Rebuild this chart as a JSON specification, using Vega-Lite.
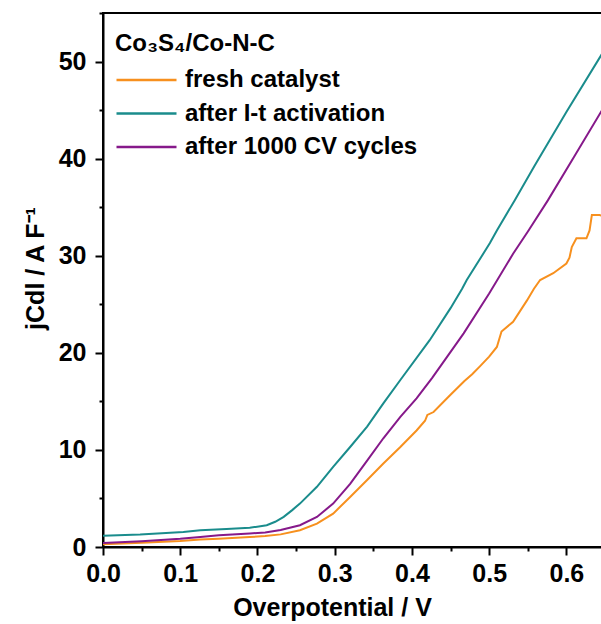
{
  "$schema": "https://vega.github.io/schema/vega-lite/v6.json",
  "autosize": "none",
  "padding": {"left": 103, "top": 13, "right": 0, "bottom": 77},
  "width": 502,
  "height": 534,
  "background": "white",
  "config": {"view": {"stroke": "black", "strokeWidth": 2}, "font": "Liberation Sans"},
  "data": {"values": [
    {"s": "fresh catalyst", "x": 0, "y": 0.28},
    {"s": "fresh catalyst", "x": 0.05, "y": 0.45},
    {"s": "fresh catalyst", "x": 0.1, "y": 0.62},
    {"s": "fresh catalyst", "x": 0.126, "y": 0.76},
    {"s": "fresh catalyst", "x": 0.15, "y": 0.85},
    {"s": "fresh catalyst", "x": 0.19, "y": 1.02},
    {"s": "fresh catalyst", "x": 0.21, "y": 1.13},
    {"s": "fresh catalyst", "x": 0.23, "y": 1.3},
    {"s": "fresh catalyst", "x": 0.255, "y": 1.72},
    {"s": "fresh catalyst", "x": 0.277, "y": 2.4},
    {"s": "fresh catalyst", "x": 0.298, "y": 3.44},
    {"s": "fresh catalyst", "x": 0.32, "y": 5.15},
    {"s": "fresh catalyst", "x": 0.342, "y": 6.9},
    {"s": "fresh catalyst", "x": 0.363, "y": 8.6},
    {"s": "fresh catalyst", "x": 0.385, "y": 10.3},
    {"s": "fresh catalyst", "x": 0.406, "y": 12.0},
    {"s": "fresh catalyst", "x": 0.417, "y": 13.0},
    {"s": "fresh catalyst", "x": 0.42, "y": 13.6},
    {"s": "fresh catalyst", "x": 0.428, "y": 13.9},
    {"s": "fresh catalyst", "x": 0.449, "y": 15.6},
    {"s": "fresh catalyst", "x": 0.468, "y": 17.1},
    {"s": "fresh catalyst", "x": 0.478, "y": 17.8},
    {"s": "fresh catalyst", "x": 0.488, "y": 18.6},
    {"s": "fresh catalyst", "x": 0.5, "y": 19.6},
    {"s": "fresh catalyst", "x": 0.51, "y": 20.6},
    {"s": "fresh catalyst", "x": 0.513, "y": 21.4},
    {"s": "fresh catalyst", "x": 0.516, "y": 22.2},
    {"s": "fresh catalyst", "x": 0.531, "y": 23.2},
    {"s": "fresh catalyst", "x": 0.549, "y": 25.4},
    {"s": "fresh catalyst", "x": 0.558, "y": 26.6},
    {"s": "fresh catalyst", "x": 0.566, "y": 27.5},
    {"s": "fresh catalyst", "x": 0.583, "y": 28.2},
    {"s": "fresh catalyst", "x": 0.6, "y": 29.2},
    {"s": "fresh catalyst", "x": 0.604, "y": 29.8},
    {"s": "fresh catalyst", "x": 0.607, "y": 30.9},
    {"s": "fresh catalyst", "x": 0.613, "y": 31.8},
    {"s": "fresh catalyst", "x": 0.626, "y": 31.8},
    {"s": "fresh catalyst", "x": 0.63, "y": 32.6},
    {"s": "fresh catalyst", "x": 0.633, "y": 34.2},
    {"s": "fresh catalyst", "x": 0.643, "y": 34.2},
    {"s": "fresh catalyst", "x": 0.65, "y": 34.0},
    {"s": "after I-t activation", "x": 0, "y": 1.15},
    {"s": "after I-t activation", "x": 0.048, "y": 1.28},
    {"s": "after I-t activation", "x": 0.104, "y": 1.55},
    {"s": "after I-t activation", "x": 0.126, "y": 1.72},
    {"s": "after I-t activation", "x": 0.16, "y": 1.85},
    {"s": "after I-t activation", "x": 0.19, "y": 1.98},
    {"s": "after I-t activation", "x": 0.212, "y": 2.24},
    {"s": "after I-t activation", "x": 0.223, "y": 2.6},
    {"s": "after I-t activation", "x": 0.234, "y": 3.1},
    {"s": "after I-t activation", "x": 0.245, "y": 3.8},
    {"s": "after I-t activation", "x": 0.255, "y": 4.47},
    {"s": "after I-t activation", "x": 0.277, "y": 6.2},
    {"s": "after I-t activation", "x": 0.298, "y": 8.25},
    {"s": "after I-t activation", "x": 0.32, "y": 10.3},
    {"s": "after I-t activation", "x": 0.342, "y": 12.4},
    {"s": "after I-t activation", "x": 0.363, "y": 14.8},
    {"s": "after I-t activation", "x": 0.385, "y": 17.2},
    {"s": "after I-t activation", "x": 0.423, "y": 21.3},
    {"s": "after I-t activation", "x": 0.45, "y": 24.6},
    {"s": "after I-t activation", "x": 0.465, "y": 26.6},
    {"s": "after I-t activation", "x": 0.471, "y": 27.5},
    {"s": "after I-t activation", "x": 0.501, "y": 31.3},
    {"s": "after I-t activation", "x": 0.51, "y": 32.6},
    {"s": "after I-t activation", "x": 0.533, "y": 35.7},
    {"s": "after I-t activation", "x": 0.559, "y": 39.3},
    {"s": "after I-t activation", "x": 0.6, "y": 44.8},
    {"s": "after I-t activation", "x": 0.65, "y": 51.3},
    {"s": "after 1000 CV cycles", "x": 0, "y": 0.41},
    {"s": "after 1000 CV cycles", "x": 0.05, "y": 0.6},
    {"s": "after 1000 CV cycles", "x": 0.1, "y": 0.85},
    {"s": "after 1000 CV cycles", "x": 0.126, "y": 1.03},
    {"s": "after 1000 CV cycles", "x": 0.15, "y": 1.2},
    {"s": "after 1000 CV cycles", "x": 0.19, "y": 1.4},
    {"s": "after 1000 CV cycles", "x": 0.21, "y": 1.5},
    {"s": "after 1000 CV cycles", "x": 0.23, "y": 1.75},
    {"s": "after 1000 CV cycles", "x": 0.255, "y": 2.24},
    {"s": "after 1000 CV cycles", "x": 0.277, "y": 3.1},
    {"s": "after 1000 CV cycles", "x": 0.298, "y": 4.47},
    {"s": "after 1000 CV cycles", "x": 0.32, "y": 6.5},
    {"s": "after 1000 CV cycles", "x": 0.342, "y": 8.9},
    {"s": "after 1000 CV cycles", "x": 0.363, "y": 11.2},
    {"s": "after 1000 CV cycles", "x": 0.385, "y": 13.4},
    {"s": "after 1000 CV cycles", "x": 0.406, "y": 15.3},
    {"s": "after 1000 CV cycles", "x": 0.426, "y": 17.4},
    {"s": "after 1000 CV cycles", "x": 0.467, "y": 22.0},
    {"s": "after 1000 CV cycles", "x": 0.5, "y": 26.1},
    {"s": "after 1000 CV cycles", "x": 0.531, "y": 30.2},
    {"s": "after 1000 CV cycles", "x": 0.551, "y": 32.6},
    {"s": "after 1000 CV cycles", "x": 0.576, "y": 35.7},
    {"s": "after 1000 CV cycles", "x": 0.61, "y": 40.2},
    {"s": "after 1000 CV cycles", "x": 0.65, "y": 45.5}
  ]},
  "mark": {"type": "line", "strokeWidth": 2, "clip": true},
  "encoding": {
    "x": {
      "field": "x", "type": "quantitative",
      "scale": {"domain": [0, 0.65], "nice": false, "zero": false},
      "axis": {
        "values": [0, 0.05, 0.1, 0.15, 0.2, 0.25, 0.3, 0.35, 0.4, 0.45, 0.5, 0.55, 0.6, 0.65],
        "labelExpr": "abs(datum.value*10 - round(datum.value*10)) < 0.01 ? format(datum.value, '.1f') : ''",
        "tickSize": {"condition": {"test": "abs(datum.value*10 - round(datum.value*10)) > 0.01", "value": 4}, "value": 8},
        "tickWidth": 2, "tickColor": "black",
        "domainWidth": 2, "domainColor": "black",
        "grid": false,
        "labelFont": "Liberation Sans", "labelFontSize": 25, "labelFontWeight": "bold", "labelColor": "black",
        "labelPadding": 6, "labelFlush": false, "labelOverlap": false,
        "title": "Overpotential / V",
        "titleFont": "Liberation Sans", "titleFontSize": 25, "titleFontWeight": "bold", "titleColor": "black",
        "titlePadding": 9, "titleX": 229
      }
    },
    "y": {
      "field": "y", "type": "quantitative",
      "scale": {"domain": [0, 55], "nice": false},
      "axis": {
        "values": [0, 5, 10, 15, 20, 25, 30, 35, 40, 45, 50, 55],
        "labelExpr": "datum.value % 10 == 0 ? datum.label : ''",
        "tickSize": {"condition": {"test": "datum.value % 10 != 0", "value": 4}, "value": 8},
        "tickWidth": 2, "tickColor": "black",
        "domainWidth": 2, "domainColor": "black",
        "grid": false,
        "labelFont": "Liberation Sans", "labelFontSize": 25, "labelFontWeight": "bold", "labelColor": "black",
        "labelPadding": 9, "labelOverlap": false, "labelFlush": false,
        "title": "jCdl / A F⁻¹",
        "titleFont": "Liberation Sans", "titleFontSize": 25, "titleFontWeight": "bold", "titleColor": "black",
        "titlePadding": 10, "titleY": 255
      }
    },
    "color": {
      "field": "s", "type": "nominal",
      "scale": {
        "domain": ["fresh catalyst", "after I-t activation", "after 1000 CV cycles"],
        "range": ["#F7901E", "#1A8C8C", "#86198A"]
      },
      "legend": {
        "title": "Co₃S₄/Co-N-C",
        "orient": "none", "legendX": 12, "legendY": 19,
        "padding": 0,
        "titleFont": "Liberation Sans", "titleFontSize": 24, "titleFontWeight": "bold", "titleColor": "black",
        "titlePadding": 12, "titleLimit": 0,
        "labelFont": "Liberation Sans", "labelFontSize": 24, "labelFontWeight": "bold", "labelColor": "black",
        "labelLimit": 0, "labelOffset": 7,
        "symbolType": "stroke", "symbolSize": 3600, "symbolStrokeWidth": 2.5,
        "clipHeight": 24, "rowPadding": 9.5
      }
    }
  }
}
